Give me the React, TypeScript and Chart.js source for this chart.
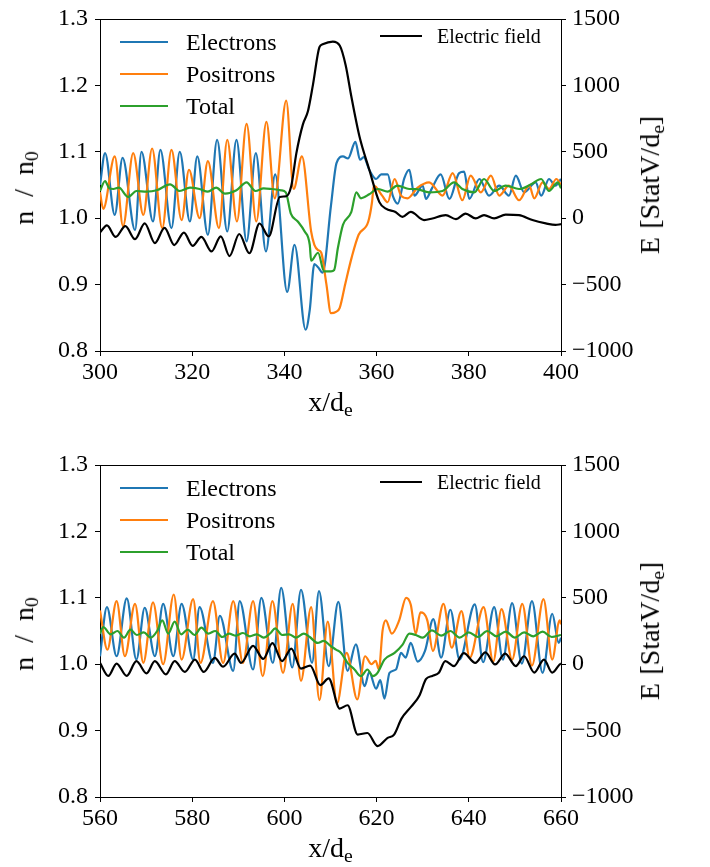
import React, { useEffect, useRef } from 'react';
import { Chart, registerables } from 'chart.js';
Chart.register(...registerables);

const FONT = '"Liberation Serif", "Times New Roman", serif';

// ---------- tick labels ----------
const TOP_X_TICKS = [300, 320, 340, 360, 380, 400];
const BOTTOM_X_TICKS = [560, 580, 600, 620, 640, 660];
const DENSITY_TICKS = [0.8, 0.9, 1.0, 1.1, 1.2, 1.3];
const FIELD_TICKS = [-1000, -500, 0, 500, 1000, 1500];

// ---------- top panel (x/de 300..400) ----------
const TOP_ELEC_X = [300, 301.1, 303.2, 304.9, 307.6, 309.0, 311.5, 313.1, 315.5, 317.3, 319.5, 321.1, 323.4, 325.4, 327.6, 329.6, 331.8, 333.8, 336.0, 338.0, 340.6, 342.2, 344.6, 345.5, 346.5, 347.3, 348.3, 350.1, 351.3, 352.7, 353.8, 355.4, 356.4, 357.2, 358.4, 359.9, 361.0, 362.4, 363.5, 364.6, 366.0, 367.1, 368.2, 370.0, 370.7, 372.0, 373.9, 375.8, 377.9, 379.0, 380.1, 382.3, 384.4, 386.6, 388.7, 390.2, 392.0, 394.5, 395.7, 397.4, 398.8, 400];
const TOP_ELEC_N = [1.050, 1.098, 1.005, 1.091, 0.982, 1.100, 0.995, 1.103, 0.985, 1.100, 0.995, 1.093, 0.975, 1.118, 0.980, 1.118, 0.965, 1.098, 0.950, 1.066, 0.889, 0.960, 0.832, 0.862, 0.931, 0.926, 0.918, 1.019, 1.083, 1.093, 1.090, 1.115, 1.088, 1.092, 1.073, 1.059, 1.066, 1.066, 1.034, 1.022, 1.060, 1.073, 1.034, 1.049, 1.029, 1.045, 1.066, 1.029, 1.068, 1.070, 1.029, 1.059, 1.034, 1.049, 1.034, 1.064, 1.039, 1.054, 1.034, 1.059, 1.049, 1.059];

const TOP_POS_X = [300, 300.7, 303.2, 305.0, 307.2, 309.4, 311.3, 313.5, 315.5, 317.7, 319.3, 321.6, 323.4, 325.8, 327.6, 329.7, 331.8, 333.9, 336.1, 337.9, 340.4, 342.0, 343.8, 345.8, 346.5, 347.3, 348.0, 349.1, 350.1, 351.2, 352.0, 353.2, 354.6, 356.1, 358.2, 359.0, 359.4, 361.2, 362.4, 363.9, 365.3, 366.7, 368.9, 371.4, 374.3, 376.5, 378.6, 380.4, 382.6, 384.8, 386.6, 388.7, 390.9, 393.1, 394.2, 396.0, 397.4, 399.0, 400];
const TOP_POS_N = [1.039, 1.014, 1.093, 0.988, 1.098, 1.005, 1.105, 0.985, 1.103, 0.997, 1.073, 1.000, 1.086, 0.985, 1.118, 0.995, 1.142, 0.995, 1.145, 1.030, 1.177, 1.044, 1.093, 0.980, 0.960, 0.952, 0.948, 0.901, 0.857, 0.859, 0.865, 0.901, 0.941, 0.975, 0.995, 1.024, 1.049, 1.034, 1.024, 1.059, 1.034, 1.030, 1.046, 1.054, 1.034, 1.068, 1.027, 1.064, 1.039, 1.064, 1.034, 1.049, 1.027, 1.049, 1.030, 1.054, 1.044, 1.059, 1.050];

const TOP_TOT_X = [300, 301.1, 302.0, 302.9, 304.1, 306.1, 307.9, 310.1, 312.3, 315.2, 317.3, 319.5, 321.6, 323.4, 325.2, 327.1, 329.6, 331.8, 333.7, 335.5, 337.2, 339.3, 340.3, 341.4, 342.9, 344.4, 345.5, 345.8, 347.3, 348.6, 350.1, 350.8, 351.6, 352.7, 354.5, 355.6, 356.6, 358.4, 360.2, 362.4, 364.5, 367.1, 368.5, 371.4, 374.3, 376.8, 378.6, 381.2, 383.3, 385.5, 388.0, 390.9, 393.5, 395.7, 397.4, 399.3, 400];
const TOP_TOT_N = [1.041, 1.056, 1.045, 1.044, 1.046, 1.032, 1.041, 1.040, 1.042, 1.051, 1.041, 1.046, 1.044, 1.040, 1.046, 1.037, 1.042, 1.054, 1.041, 1.045, 1.044, 1.042, 1.039, 1.007, 0.995, 0.980, 0.960, 0.936, 0.948, 0.920, 0.920, 0.922, 0.955, 0.990, 1.009, 1.039, 1.030, 1.036, 1.044, 1.040, 1.049, 1.044, 1.044, 1.039, 1.041, 1.054, 1.044, 1.039, 1.059, 1.041, 1.049, 1.044, 1.051, 1.059, 1.041, 1.054, 1.045];

const TOP_E_X = [300, 301.5, 303.4, 305.5, 307.6, 309.7, 311.9, 314.0, 316.1, 318.2, 320.1, 322.0, 324.2, 326.2, 328.1, 330.2, 332.4, 334.6, 336.6, 339.0, 340.4, 341.5, 342.6, 344.0, 345.1, 346.2, 347.6, 348.3, 350.5, 352.0, 353.3, 354.5, 356.3, 358.4, 360.6, 362.0, 364.1, 365.6, 367.4, 370.3, 372.1, 375.0, 377.2, 379.3, 381.5, 383.3, 385.5, 388.0, 390.9, 393.8, 396.7, 398.8, 400];
const TOP_E_V = [-108, -54, -141, -60, -158, -39, -187, -73, -202, -109, -208, -141, -250, -137, -285, -119, -264, -40, -137, 160, 165, 244, 490, 705, 805, 1006, 1288, 1310, 1330, 1300, 1150, 920, 613, 367, 121, 72, 47, 10, 47, -14, -2, 23, -7, 35, -2, 23, -2, 27, 23, -14, -39, -51, -45];

// ---------- bottom panel (x/de 560..660) ----------
const BOT_ELEC_X = [560, 561.5, 563.6, 565.8, 567.9, 569.7, 571.9, 573.7, 575.9, 577.7, 580.2, 581.6, 584.5, 586.0, 588.9, 590.3, 593.2, 595.0, 597.5, 599.3, 601.7, 603.6, 606.0, 607.5, 609.6, 611.7, 613.7, 615.5, 617.4, 618.4, 619.9, 620.8, 621.7, 622.8, 624.2, 625.3, 626.3, 627.4, 628.9, 630.5, 632.3, 634.0, 636.0, 638.0, 641.3, 643.1, 645.5, 647.4, 649.4, 651.5, 653.7, 656.0, 658.1, 659.5, 660];
const BOT_ELEC_N = [1.012, 1.086, 1.012, 1.099, 1.007, 1.085, 1.012, 1.091, 1.012, 1.091, 1.007, 1.086, 1.002, 1.073, 0.990, 1.095, 0.992, 1.100, 1.002, 1.115, 0.995, 1.112, 1.002, 1.110, 0.997, 1.094, 0.990, 1.030, 0.967, 0.988, 0.963, 0.976, 0.948, 0.987, 0.992, 1.017, 1.010, 1.032, 1.004, 1.020, 1.068, 1.010, 1.082, 1.007, 1.090, 1.003, 1.086, 1.007, 1.092, 1.001, 1.095, 0.987, 1.076, 1.032, 1.040];

const BOT_POS_X = [560, 561.6, 563.6, 565.4, 567.6, 569.4, 571.5, 573.7, 576.0, 577.7, 580.2, 581.8, 584.5, 586.7, 588.9, 591.0, 593.2, 595.3, 597.4, 599.7, 601.8, 603.6, 605.8, 607.6, 609.4, 611.4, 613.5, 615.8, 617.5, 618.9, 619.8, 620.5, 621.3, 622.0, 623.3, 624.9, 626.4, 627.4, 628.5, 629.5, 631.0, 632.2, 634.5, 636.3, 638.4, 640.2, 643.2, 645.3, 647.1, 649.4, 651.6, 653.7, 656.2, 658.1, 659.7, 660];
const BOT_POS_N = [1.081, 1.022, 1.095, 1.012, 1.091, 1.002, 1.093, 1.000, 1.105, 1.007, 1.098, 1.002, 1.095, 1.002, 1.095, 1.002, 1.095, 0.982, 1.095, 0.987, 1.091, 0.975, 1.086, 0.946, 1.064, 0.941, 1.017, 0.947, 1.012, 1.000, 1.005, 0.992, 1.051, 1.066, 1.046, 1.066, 1.100, 1.090, 1.046, 1.078, 1.066, 1.020, 1.091, 1.025, 1.080, 1.010, 1.086, 1.004, 1.083, 1.007, 1.091, 0.998, 1.098, 1.007, 1.066, 1.060];

const BOT_TOT_X = [560, 560.7, 562.3, 563.8, 565.2, 566.6, 568.0, 569.5, 571.0, 572.4, 573.5, 574.8, 576.2, 577.6, 579.0, 580.5, 582.0, 583.5, 585.0, 586.5, 588.0, 589.5, 591.0, 592.5, 594.0, 595.5, 597.0, 598.0, 599.5, 601.0, 602.5, 604.2, 605.5, 607.2, 608.5, 610.1, 611.2, 612.3, 613.7, 615.2, 616.6, 618.0, 619.2, 620.2, 621.7, 623.9, 625.6, 627.1, 628.5, 630.0, 632.0, 634.0, 636.0, 638.0, 640.0, 642.0, 644.0, 646.0, 648.0, 650.0, 652.0, 654.0, 656.0, 658.0, 660.0];
const BOT_TOT_N = [1.046, 1.056, 1.045, 1.050, 1.040, 1.052, 1.044, 1.048, 1.040, 1.050, 1.066, 1.046, 1.064, 1.045, 1.052, 1.044, 1.055, 1.046, 1.050, 1.041, 1.046, 1.043, 1.047, 1.042, 1.045, 1.040, 1.047, 1.054, 1.044, 1.045, 1.040, 1.046, 1.041, 1.032, 1.035, 1.027, 1.022, 1.017, 1.002, 0.992, 0.982, 0.992, 0.982, 0.987, 1.007, 1.017, 1.029, 1.046, 1.044, 1.040, 1.051, 1.043, 1.050, 1.040, 1.048, 1.041, 1.050, 1.042, 1.049, 1.040, 1.048, 1.042, 1.049, 1.041, 1.044];

const BOT_E_X = [560, 561.8, 563.6, 565.8, 567.9, 570.1, 571.9, 574.3, 576.2, 578.4, 580.6, 582.5, 584.9, 586.7, 589.2, 590.6, 593.2, 595.4, 597.4, 599.5, 601.5, 603.6, 605.6, 607.8, 609.6, 612.0, 613.7, 615.9, 618.0, 620.2, 622.4, 623.8, 625.4, 627.5, 629.3, 630.7, 632.1, 633.5, 634.9, 636.8, 638.9, 641.4, 643.6, 645.7, 647.9, 650.2, 652.0, 654.2, 656.3, 658.1, 659.7, 660];
const BOT_E_V = [10, -88, 5, -88, 23, -69, 23, -76, 23, -58, 35, -58, 47, -19, 79, 10, 138, 40, 158, 23, 118, -33, -10, -157, -107, -334, -309, -530, -518, -617, -555, -530, -410, -320, -235, -113, -88, -65, 23, -14, 84, 10, 89, -2, 79, -14, 60, -63, 35, -63, -2, 5];

const COLORS = { electrons: '#1f77b4', positrons: '#ff7f0e', total: '#2ca02c', field: '#000000' };

function zip(xs: number[], ys: number[]) {
  return xs.map((x, i) => ({ x, y: ys[i] }));
}

const topSpine = {
  id: 'topSpine',
  afterDraw(chart: any) {
    const { ctx, chartArea: a } = chart;
    ctx.save();
    ctx.strokeStyle = '#000';
    ctx.lineWidth = 1;
    ctx.beginPath();
    ctx.moveTo(a.left, Math.round(a.top) + 0.5);
    ctx.lineTo(a.right + 1, Math.round(a.top) + 0.5);
    ctx.stroke();
    ctx.restore();
  },
};

const AX_TOP = 12;
const AX_BOTTOM = 351;
const AX_LEFT = 100;
const AX_RIGHT = 561;

type PanelProps = {
  top: number;
  height: number;
  xTicks: number[];
  elec: [number[], number[]];
  pos: [number[], number[]];
  tot: [number[], number[]];
  field: [number[], number[]];
};

function Panel({ top, height, xTicks, elec, pos, tot, field }: PanelProps) {
  const ref = useRef<HTMLCanvasElement>(null);
  useEffect(() => {
    if (!ref.current) return;
    const tickFont = { family: FONT, size: 24, lineHeight: 1 };
    const gridOpts = { display: true, drawOnChartArea: false, drawTicks: true, tickLength: 5, color: '#000', lineWidth: 1 };
    const borderOpts = { display: true, color: '#000', width: 1 };
    const line = (label: string, d: [number[], number[]], color: string, axis: string, order: number) => ({
      label,
      data: zip(d[0], d[1]),
      borderColor: color,
      backgroundColor: color,
      borderWidth: 2.2,
      pointRadius: 0,
      fill: false,
      cubicInterpolationMode: 'monotone' as const,
      yAxisID: axis,
      order,
    });
    const chart = new Chart(ref.current, {
      type: 'line',
      data: {
        datasets: [
          line('Electric field', field, COLORS.field, 'yE', 0),
          line('Total', tot, COLORS.total, 'yN', 1),
          line('Positrons', pos, COLORS.positrons, 'yN', 2),
          line('Electrons', elec, COLORS.electrons, 'yN', 3),
        ],
      },
      options: {
        animation: false,
        responsive: false,
        devicePixelRatio: 1,
        layout: { padding: { top: AX_TOP, left: 0, right: 0, bottom: 0 } },
        plugins: { legend: { display: false }, tooltip: { enabled: false } },
        events: [],
        scales: {
          x: {
            type: 'linear',
            min: xTicks[0],
            max: xTicks[xTicks.length - 1],
            afterBuildTicks: (s: any) => { s.ticks = xTicks.map((v) => ({ value: v })); },
            ticks: { font: tickFont, color: '#000', padding: 5, maxRotation: 0, autoSkip: false },
            grid: gridOpts,
            border: borderOpts,
            afterFit: (s: any) => { s.height = height - AX_BOTTOM; },
          },
          yN: {
            type: 'linear',
            position: 'left',
            min: 0.8,
            max: 1.3,
            afterBuildTicks: (s: any) => { s.ticks = DENSITY_TICKS.map((v) => ({ value: v })); },
            ticks: { font: tickFont, color: '#000', padding: 7, callback: (v: any) => Number(v).toFixed(1) },
            grid: gridOpts,
            border: borderOpts,
            afterFit: (s: any) => { s.width = AX_LEFT; },
          },
          yE: {
            type: 'linear',
            position: 'right',
            min: -1000,
            max: 1500,
            afterBuildTicks: (s: any) => { s.ticks = FIELD_TICKS.map((v) => ({ value: v })); },
            ticks: {
              font: tickFont,
              color: '#000',
              padding: 6,
              callback: (v: any) => (Number(v) < 0 ? '\u2212' + Math.abs(Number(v)) : String(v)),
            },
            grid: gridOpts,
            border: borderOpts,
            afterFit: (s: any) => { s.width = 710 - AX_RIGHT; },
          },
        },
      } as any,
      plugins: [topSpine],
    });
    return () => chart.destroy();
  }, []);
  return (
    <canvas
      ref={ref}
      width={710}
      height={height}
      style={{ position: 'absolute', left: 0, top, width: 710, height }}
    />
  );
}

function Overlay({ offset }: { offset: number }) {
  const axTop = offset + AX_TOP;
  const axBottom = offset + AX_BOTTOM;
  const entries = [
    { label: 'Electrons', color: COLORS.electrons, dy: 29.5 },
    { label: 'Positrons', color: COLORS.positrons, dy: 61.5 },
    { label: 'Total', color: COLORS.total, dy: 94 },
  ];
  const text: React.CSSProperties = { position: 'absolute', fontFamily: FONT, color: '#000', whiteSpace: 'nowrap' };
  return (
    <>
      {entries.map((e) => (
        <React.Fragment key={e.label}>
          <div style={{ position: 'absolute', left: 120, top: axTop + e.dy - 1, width: 48, height: 2.2, background: e.color }} />
          <div style={{ ...text, left: 186, top: axTop + e.dy - 12, fontSize: 24, lineHeight: '24px' }}>{e.label}</div>
        </React.Fragment>
      ))}
      <div style={{ position: 'absolute', left: 380, top: axTop + 24 - 1, width: 42, height: 2.2, background: COLORS.field }} />
      <div style={{ ...text, left: 437, top: axTop + 24 - 10, fontSize: 20, lineHeight: '20px' }}>Electric field</div>

      <div style={{ ...text, left: (AX_LEFT + AX_RIGHT) / 2, top: axBottom + 60 - 23.5, fontSize: 28, lineHeight: '28px', transform: 'translateX(-50%)' }}>
        x/d<sub style={{ fontSize: '70%', verticalAlign: '-0.25em' }}>e</sub>
      </div>
      <div style={{ ...text, left: 28, top: axTop + 176, fontSize: 28, lineHeight: '28px', transform: 'translate(-50%, -50%) rotate(-90deg)' }}>
        n<span style={{ margin: '0 0.5em' }}>/</span>n<sub style={{ fontSize: '70%', verticalAlign: '-0.25em' }}>0</sub>
      </div>
      <div style={{ ...text, left: 654, top: axTop + 173, fontSize: 28, lineHeight: '28px', transform: 'translate(-50%, -50%) rotate(-90deg)' }}>
        E<span style={{ marginLeft: '0.3em' }}>[StatV/d</span><sub style={{ fontSize: '70%', verticalAlign: '-0.25em' }}>e</sub>]
      </div>
    </>
  );
}

export default function App() {
  return (
    <div style={{ position: 'fixed', left: 0, top: 0, width: 710, height: 867, overflow: 'hidden', background: '#fff' }}>
      <Panel
        top={0}
        height={433}
        xTicks={TOP_X_TICKS}
        elec={[TOP_ELEC_X, TOP_ELEC_N]}
        pos={[TOP_POS_X, TOP_POS_N]}
        tot={[TOP_TOT_X, TOP_TOT_N]}
        field={[TOP_E_X, TOP_E_V]}
      />
      <Panel
        top={446}
        height={421}
        xTicks={BOTTOM_X_TICKS}
        elec={[BOT_ELEC_X, BOT_ELEC_N]}
        pos={[BOT_POS_X, BOT_POS_N]}
        tot={[BOT_TOT_X, BOT_TOT_N]}
        field={[BOT_E_X, BOT_E_V]}
      />
      <Overlay offset={0} />
      <Overlay offset={446} />
    </div>
  );
}
